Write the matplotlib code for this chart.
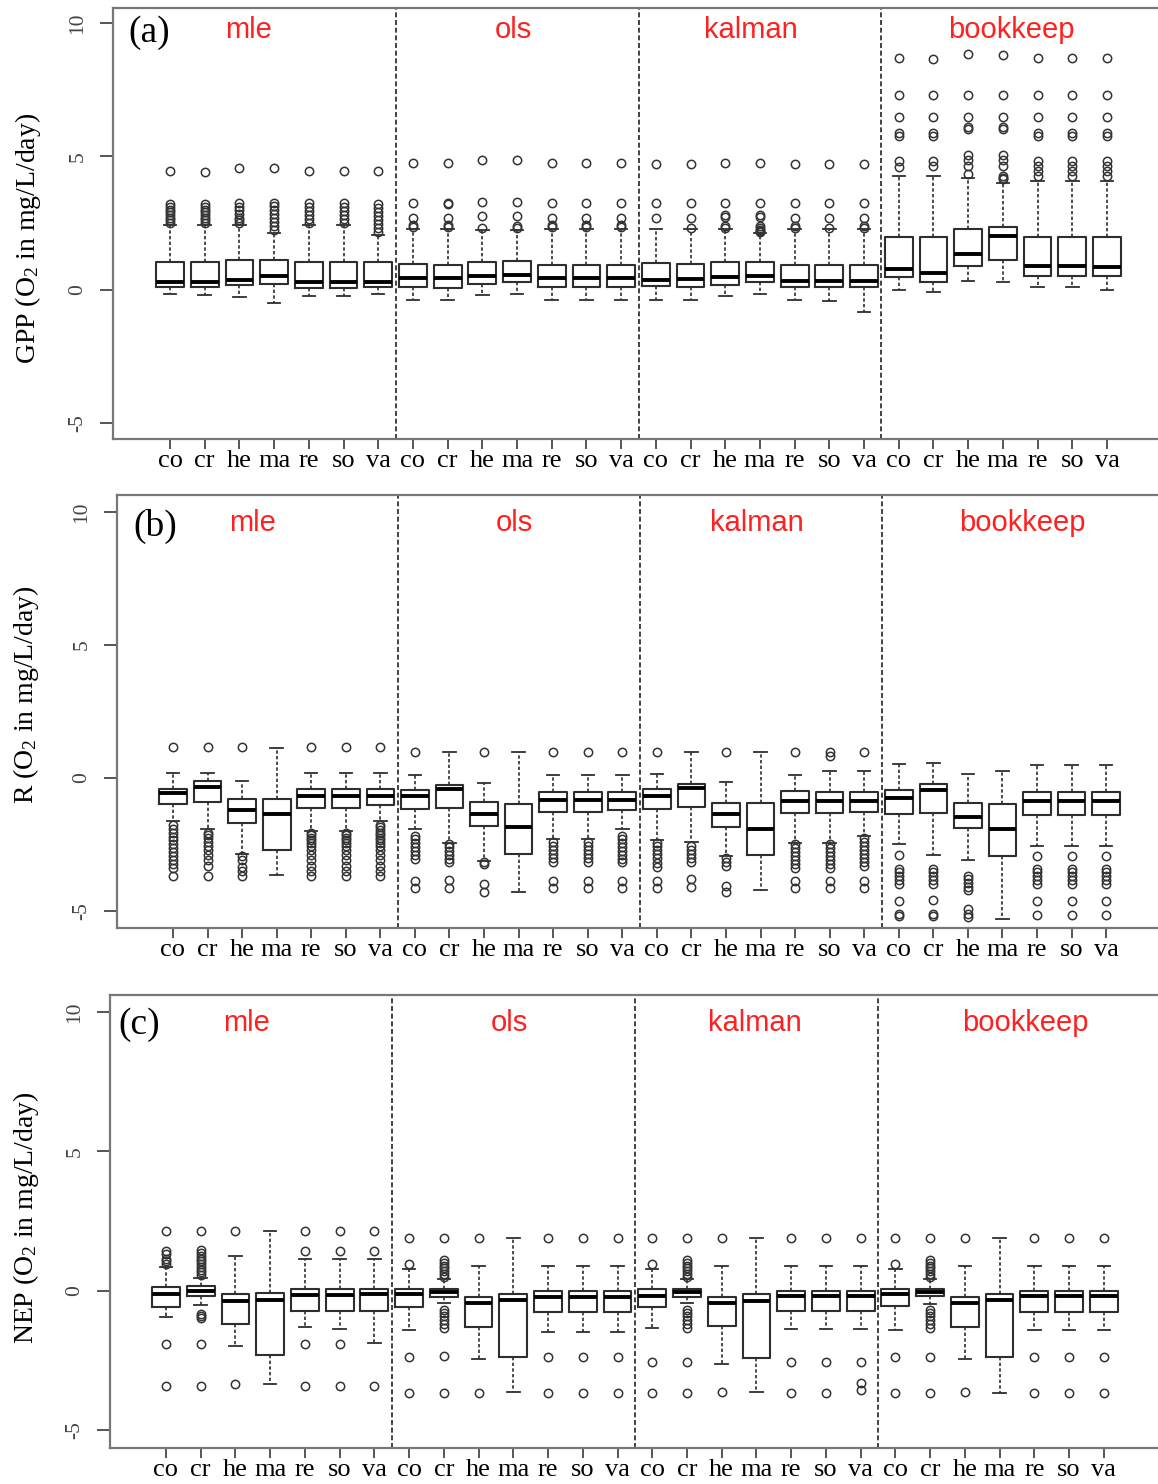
import matplotlib
matplotlib.use("Agg")
import matplotlib.pyplot as plt

plt.rcParams['font.family'] = ['Liberation Serif', 'DejaVu Serif']
plt.rcParams['mathtext.fontset'] = 'custom'
plt.rcParams['mathtext.rm'] = 'Liberation Serif'
plt.rcParams['mathtext.it'] = 'Liberation Serif:italic'

# ---------------- data ----------------
sites = ["co", "cr", "he", "ma", "re", "so", "va"]
methods = ["mle", "ols", "kalman", "bookkeep"]
panel_tags = ["(a)", "(b)", "(c)"]
ylabels = ["GPP (O$_2$ in mg/L/day)", "R (O$_2$ in mg/L/day)", "NEP (O$_2$ in mg/L/day)"]

# GPP
gpp_q3 = [1.02, 1.02, 1.10, 1.10, 1.02, 1.02, 1.02,
          0.96, 0.91, 1.02, 1.06, 0.94, 0.94, 0.94,
          1.00, 0.96, 1.02, 1.02, 0.94, 0.94, 0.94,
          1.97, 1.97, 2.27, 2.34, 1.97, 1.97, 1.97]
gpp_q1 = [0.10, 0.10, 0.16, 0.22, 0.06, 0.06, 0.10,
          0.10, 0.06, 0.21, 0.27, 0.10, 0.10, 0.10,
          0.12, 0.10, 0.19, 0.27, 0.10, 0.10, 0.10,
          0.48, 0.27, 0.90, 1.12, 0.52, 0.52, 0.52]
gpp_med = [0.27, 0.27, 0.37, 0.52, 0.27, 0.27, 0.27,
           0.44, 0.44, 0.50, 0.56, 0.44, 0.44, 0.44,
           0.37, 0.40, 0.46, 0.52, 0.34, 0.34, 0.34,
           0.78, 0.62, 1.35, 2.00, 0.88, 0.88, 0.85]
gpp_lo = [-0.15, -0.20, -0.29, -0.50, -0.22, -0.22, -0.15,
          -0.37, -0.37, -0.20, -0.15, -0.37, -0.37, -0.37,
          -0.37, -0.37, -0.22, -0.15, -0.37, -0.44, -0.84,
          0.00, -0.10, 0.31, 0.27, 0.10, 0.10, 0.00]
gpp_hi = [2.41, 2.41, 2.41, 2.12, 2.41, 2.41, 2.06,
          2.27, 2.27, 2.25, 2.25, 2.27, 2.27, 2.27,
          2.27, 2.27, 2.27, 2.12, 2.27, 2.27, 2.27,
          4.25, 4.25, 4.19, 4.00, 4.09, 4.09, 4.09]
gpp_fliers = [
    [2.5, 2.6, 2.7, 2.8, 2.9, 3.0, 3.1, 3.2, 4.45],
    [2.5, 2.6, 2.7, 2.8, 2.9, 3.0, 3.1, 3.2, 4.42],
    [2.5, 2.6, 2.7, 2.85, 3.0, 3.1, 3.25, 4.55],
    [2.25, 2.4, 2.55, 2.7, 2.85, 3.0, 3.15, 3.25, 4.55],
    [2.5, 2.65, 2.8, 2.95, 3.1, 3.25, 4.45],
    [2.5, 2.65, 2.8, 2.95, 3.1, 3.25, 4.45],
    [2.15, 2.3, 2.45, 2.6, 2.75, 2.9, 3.05, 3.2, 4.45],
    [2.35, 2.42, 2.69, 3.23, 4.75],
    [2.35, 2.42, 2.69, 3.2, 3.25, 4.75],
    [2.32, 2.77, 3.28, 4.85],
    [2.32, 2.4, 2.77, 3.28, 4.85],
    [2.35, 2.42, 2.69, 3.23, 4.75],
    [2.35, 2.42, 2.69, 3.23, 4.75],
    [2.35, 2.42, 2.69, 3.23, 4.75],
    [2.69, 3.23, 4.72],
    [2.3, 2.69, 3.23, 4.72],
    [2.3, 2.38, 2.72, 2.78, 3.23, 4.75],
    [2.15, 2.2, 2.25, 2.3, 2.38, 2.72, 2.78, 3.23, 4.75],
    [2.32, 2.4, 2.69, 3.23, 4.72],
    [2.32, 2.69, 3.23, 4.72],
    [2.32, 2.4, 2.69, 3.23, 4.72],
    [4.6, 4.81, 5.77, 5.87, 6.47, 7.29, 8.69],
    [4.62, 4.81, 5.77, 5.87, 6.47, 7.29, 8.65],
    [4.35, 4.62, 4.87, 5.06, 6.02, 6.1, 6.47, 7.29, 8.84],
    [4.15, 4.2, 4.25, 4.62, 4.85, 5.06, 6.02, 6.1, 6.47, 7.29, 8.81],
    [4.25, 4.45, 4.62, 4.81, 5.77, 5.87, 6.47, 7.29, 8.69],
    [4.25, 4.45, 4.62, 4.81, 5.77, 5.87, 6.47, 7.29, 8.69],
    [4.25, 4.45, 4.62, 4.81, 5.77, 5.87, 6.47, 7.29, 8.69],
]

# R
r_q3 = [-0.40, -0.10, -0.78, -0.78, -0.41, -0.41, -0.40,
        -0.46, -0.25, -0.91, -0.96, -0.53, -0.53, -0.53,
        -0.41, -0.21, -0.93, -0.93, -0.50, -0.53, -0.53,
        -0.47, -0.21, -0.93, -0.97, -0.53, -0.53, -0.53]
r_q1 = [-0.96, -0.90, -1.68, -2.71, -1.12, -1.12, -1.00,
        -1.16, -1.12, -1.80, -2.86, -1.27, -1.27, -1.22,
        -1.18, -1.09, -1.83, -2.90, -1.33, -1.33, -1.28,
        -1.37, -1.31, -1.89, -2.95, -1.41, -1.41, -1.41]
r_med = [-0.58, -0.35, -1.22, -1.34, -0.66, -0.66, -0.68,
         -0.66, -0.41, -1.34, -1.84, -0.81, -0.81, -0.81,
         -0.66, -0.37, -1.34, -1.90, -0.87, -0.87, -0.87,
         -0.75, -0.44, -1.46, -1.90, -0.85, -0.85, -0.85]
r_lo = [-1.62, -1.90, -2.86, -3.63, -1.99, -1.99, -1.62,
        -1.90, -2.43, -3.11, -4.27, -2.30, -2.30, -1.90,
        -2.33, -2.40, -2.92, -4.23, -2.43, -2.43, -2.18,
        -2.49, -2.90, -3.08, -5.29, -2.55, -2.55, -2.55]
r_hi = [0.19, 0.19, -0.10, 1.12, 0.19, 0.19, 0.19,
        0.12, 0.96, -0.19, 0.96, 0.12, 0.12, 0.12,
        0.16, 0.96, -0.14, 0.96, 0.12, 0.27, 0.27,
        0.53, 0.58, 0.15, 0.25, 0.50, 0.50, 0.50]
r_fliers = [
    [1.16, -1.75, -1.9, -2.05, -2.2, -2.35, -2.5, -2.65, -2.8, -2.95, -3.1, -3.25, -3.4, -3.67],
    [1.18, -2.05, -2.15, -2.25, -2.4, -2.55, -2.7, -2.9, -3.1, -3.3, -3.67],
    [1.16, -2.95, -3.1, -3.35, -3.5, -3.67],
    [],
    [1.16, -2.05, -2.15, -2.25, -2.35, -2.45, -2.55, -2.7, -2.9, -3.1, -3.3, -3.5, -3.67],
    [1.16, -2.05, -2.15, -2.25, -2.35, -2.45, -2.55, -2.7, -2.9, -3.1, -3.3, -3.5, -3.67],
    [1.16, -1.75, -1.85, -1.95, -2.05, -2.15, -2.25, -2.35, -2.45, -2.55, -2.7, -2.9, -3.1, -3.3, -3.5, -3.67],
    [0.96, -2.18, -2.3, -2.45, -2.6, -2.75, -2.9, -3.05, -3.88, -4.12],
    [-2.49, -2.6, -2.75, -2.9, -3.05, -3.17, -3.85, -4.15],
    [0.96, -3.15, -3.23, -4.0, -4.3],
    [],
    [0.96, -2.4, -2.55, -2.7, -2.85, -3.0, -3.15, -3.88, -4.12],
    [0.96, -2.4, -2.55, -2.7, -2.85, -3.0, -3.15, -3.88, -4.12],
    [0.96, -2.18, -2.3, -2.45, -2.6, -2.75, -2.9, -3.05, -3.15, -3.88, -4.12],
    [0.96, -2.43, -2.55, -2.7, -2.85, -3.0, -3.2, -3.36, -3.88, -4.12],
    [-2.55, -2.7, -2.85, -3.0, -3.15, -3.78, -4.1],
    [0.96, -3.0, -3.15, -3.3, -4.05, -4.3],
    [],
    [0.96, -2.5, -2.65, -2.8, -2.95, -3.1, -3.25, -3.4, -3.88, -4.12],
    [0.96, 0.81, -2.5, -2.65, -2.8, -2.95, -3.1, -3.25, -3.4, -3.88, -4.12],
    [0.96, -2.25, -2.4, -2.55, -2.7, -2.85, -3.0, -3.15, -3.3, -3.88, -4.12],
    [-2.90, -3.42, -3.55, -3.7, -3.85, -3.98, -4.64, -5.1, -5.18],
    [-3.42, -3.55, -3.7, -3.85, -3.98, -4.60, -5.1, -5.18],
    [-3.67, -3.8, -3.95, -4.1, -4.23, -4.91, -5.1, -5.22],
    [],
    [-2.95, -3.42, -3.55, -3.7, -3.85, -3.98, -4.64, -5.14],
    [-2.95, -3.42, -3.55, -3.7, -3.85, -3.98, -4.64, -5.14],
    [-2.95, -3.42, -3.55, -3.7, -3.85, -3.98, -4.64, -5.14],
]

# NEP
nep_q3 = [0.12, 0.18, -0.12, -0.08, 0.07, 0.07, 0.07,
          0.06, 0.07, -0.23, -0.14, -0.02, -0.02, -0.02,
          0.06, 0.06, -0.23, -0.14, 0.00, 0.00, 0.00,
          0.06, 0.07, -0.23, -0.14, -0.02, -0.02, -0.02]
nep_q1 = [-0.59, -0.18, -1.20, -2.31, -0.72, -0.72, -0.75,
          -0.59, -0.23, -1.31, -2.37, -0.78, -0.78, -0.78,
          -0.59, -0.23, -1.26, -2.43, -0.75, -0.75, -0.75,
          -0.56, -0.20, -1.31, -2.37, -0.78, -0.78, -0.78]
nep_med = [-0.11, 0.00, -0.38, -0.32, -0.16, -0.16, -0.14,
           -0.14, -0.06, -0.44, -0.35, -0.23, -0.23, -0.23,
           -0.18, -0.06, -0.44, -0.38, -0.20, -0.20, -0.20,
           -0.14, -0.06, -0.44, -0.35, -0.18, -0.18, -0.18]
nep_lo = [-0.96, -0.50, -1.98, -3.37, -1.32, -1.38, -1.89,
          -1.41, -0.44, -2.46, -3.65, -1.47, -1.47, -1.47,
          -1.35, -0.44, -2.63, -3.65, -1.38, -1.38, -1.38,
          -1.41, -0.47, -2.46, -3.69, -1.43, -1.43, -1.43]
nep_hi = [0.85, 0.45, 1.24, 2.14, 1.12, 1.12, 1.12,
          0.76, 0.40, 0.90, 1.88, 0.90, 0.90, 0.90,
          0.76, 0.40, 0.90, 1.88, 0.90, 0.90, 0.90,
          0.76, 0.40, 0.90, 1.88, 0.90, 0.90, 0.90]
nep_fliers = [
    [0.95, 1.05, 1.15, 1.3, 1.42, 2.14, -1.91, -3.41],
    [0.55, 0.65, 0.75, 0.85, 0.95, 1.05, 1.15, 1.25, 1.35, 1.45, 2.14, -0.83, -0.92, -0.99, -1.91, -3.41],
    [2.14, -3.37],
    [],
    [1.42, 2.14, -1.91, -3.41],
    [1.42, 2.14, -1.91, -3.41],
    [1.42, 2.14, -3.41],
    [0.97, 1.88, -2.40, -3.69],
    [0.5, 0.6, 0.7, 0.8, 0.9, 1.0, 1.1, 1.88, -0.69, -0.8, -0.92, -1.05, -1.2, -1.35, -2.34, -3.69],
    [1.88, -3.67],
    [],
    [1.88, -2.40, -3.69],
    [1.88, -2.40, -3.69],
    [1.88, -2.40, -3.69],
    [0.97, 1.88, -2.57, -3.69],
    [0.5, 0.6, 0.7, 0.8, 0.9, 1.0, 1.1, 1.88, -0.69, -0.8, -0.92, -1.05, -1.2, -1.35, -2.57, -3.69],
    [1.88, -3.63],
    [],
    [1.88, -2.57, -3.69],
    [1.88, -2.57, -3.69],
    [1.88, -2.57, -3.33, -3.57],
    [0.97, 1.88, -2.40, -3.69],
    [0.5, 0.6, 0.7, 0.8, 0.9, 1.0, 1.1, 1.88, -0.69, -0.8, -0.92, -1.05, -1.2, -1.35, -2.40, -3.69],
    [1.88, -3.63],
    [],
    [1.88, -2.40, -3.69],
    [1.88, -2.40, -3.69],
    [1.88, -2.40, -3.69],
]

panels = [
    (gpp_med, gpp_q1, gpp_q3, gpp_lo, gpp_hi, gpp_fliers),
    (r_med, r_q1, r_q3, r_lo, r_hi, r_fliers),
    (nep_med, nep_q1, nep_q3, nep_lo, nep_hi, nep_fliers),
]

# ---------------- layout ----------------
W, H = 1158, 1484
fig = plt.figure(figsize=(W / 100, H / 100), dpi=100)

# pixel boxes: left, top, bottom
ax_px = [(113, 8, 439), (117, 495, 928), (110, 995, 1448)]
xlims = [(-0.643, 29.47), (-0.62, 29.5), (-0.61, 29.56)]
ylims = [(-5.6, 10.56), (-5.64, 10.64), (-5.65, 10.61)]
ylab_px = [(28, 238), (26, 695), (26, 1218)]
tag_pos = [(-0.2, 9.62), (-0.15, 9.45), (-0.38, 9.54)]
method_x = [[3.25, 10.88, 17.74, 25.24], [3.31, 10.87, 17.9, 25.57], [3.33, 10.9, 17.95, 25.75]]
method_y = [9.45, 9.3, 9.3]

positions = list(range(1, 29))
xlabels = sites * 4
edge = '#2e2e2e'

for i, (med, q1, q3, lo, hi, fl) in enumerate(panels):
    l, t, b = ax_px[i]
    ax = fig.add_axes([l / W, 1 - b / H, 1 - l / W, (b - t) / H])
    stats = [dict(med=med[k], q1=q1[k], q3=q3[k], whislo=lo[k], whishi=hi[k], fliers=fl[k])
             for k in range(len(med))]
    ax.bxp(stats, positions=positions, widths=0.8, capwidths=0.36,
           boxprops=dict(color=edge, linewidth=1.5),
           medianprops=dict(color='black', linewidth=2.8, solid_capstyle='butt'),
           whiskerprops=dict(color=edge, linewidth=1.2, linestyle=(0, (2.0, 1.4))),
           capprops=dict(color=edge, linewidth=1.3),
           flierprops=dict(marker='o', markerfacecolor='none', markeredgecolor='#333333',
                           markersize=6.0, markeredgewidth=1.1, linestyle='none'))
    for xv in (7.5, 14.5, 21.5):
        ax.axvline(xv, color='#222222', linewidth=1.2, linestyle=(0, (3, 1.6)), zorder=1)
    ax.set_xlim(*xlims[i])
    ax.set_ylim(*ylims[i])
    ax.set_xticks(positions)
    ax.set_xticklabels(xlabels, fontsize=19)
    ax.set_yticks([-5, 0, 5, 10])
    ax.set_yticklabels(['-5', '0', '5', '10'], fontsize=15.5, color='#444444', rotation=90,
                       va='center')
    ax.tick_params(axis='x', length=7, width=1.4, color='#555555', pad=1)
    ax.tick_params(axis='y', length=9.5, width=1.4, color='#555555', pad=9)
    for s in ('left', 'bottom', 'top'):
        ax.spines[s].set_color('#777777')
        ax.spines[s].set_linewidth(1.6)
    ax.spines['right'].set_visible(False)
    ax.text(tag_pos[i][0], tag_pos[i][1], panel_tags[i], fontsize=27, ha='left', va='center')
    for m, mx in zip(methods, method_x[i]):
        ax.text(mx, method_y[i], m, color='#ff2020', fontsize=21, ha='center', va='baseline',
                family=['Liberation Sans', 'DejaVu Sans'])
    fig.text(ylab_px[i][0] / W, 1 - ylab_px[i][1] / H, ylabels[i], rotation=90,
             ha='center', va='center', fontsize=20)

fig.savefig('out.png', dpi=100)
